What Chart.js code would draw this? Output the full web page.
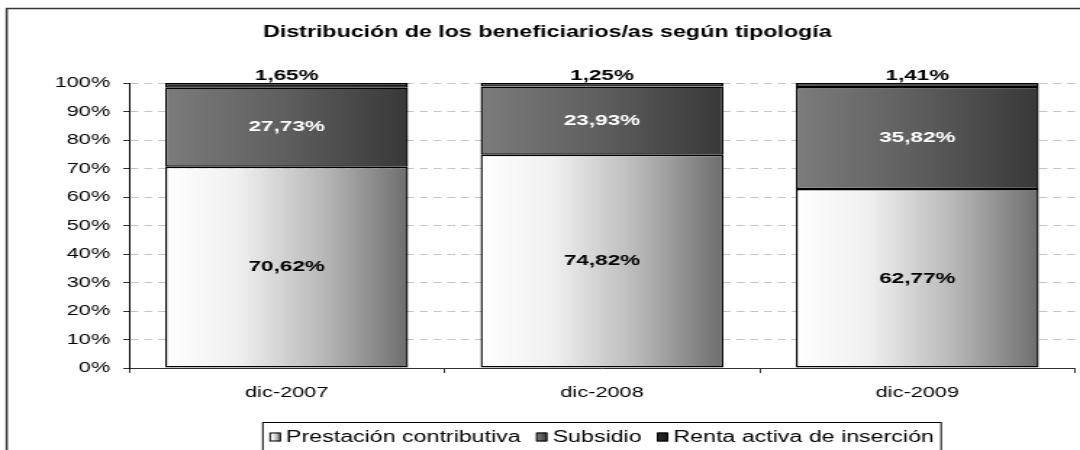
<!DOCTYPE html>
<html>
<head>
<meta charset="utf-8">
<script src="https://cdn.jsdelivr.net/npm/chart.js@4.4.1/dist/chart.umd.min.js"></script>
<style>
  html, body { margin: 0; padding: 0; background: #fff; overflow: hidden; }
  /* the original picture is a stretched Excel chart: draw narrow, then widen */
  #wrap { width: 745px; height: 450px; position: relative; transform: scaleX(1.4497); transform-origin: 0 0; }
</style>
</head>
<body>
<div id="wrap"><canvas id="tipologia-chart"></canvas></div>
<script>
// Data
const chartTitle = 'Distribución de los beneficiarios/as según tipología';
const categories = ['dic-2007', 'dic-2008', 'dic-2009'];
const seriesNames = ['Prestación contributiva', 'Subsidio', 'Renta activa de inserción'];
const prestacion = [70.62, 74.82, 62.77];
const subsidio = [27.73, 23.93, 35.82];
const renta = [1.65, 1.25, 1.41];

const FONT = '"Liberation Sans", Arial, sans-serif';
const BAR_PCT = 0.77;

// gradient stops per series (left -> right across each bar)
const fills = [
    [[0, '#ffffff'], [0.3, '#f0f0f0'], [0.65, '#b8b8b8'], [1, '#6e6e6e']],
    [[0, '#7c7c7c'], [0.5, '#5e5e5e'], [1, '#383838']],
    [[0, '#2a2a2a'], [1, '#1a1a1a']],
];

function barGradient(stops) {
    return function (context) {
        const chart = context.chart;
        const x = chart.scales && chart.scales.x;
        if (!chart.chartArea || !x || context.dataIndex === undefined) return stops[stops.length - 1][1];
        const cx = x.getPixelForValue(context.dataIndex);
        const half = (chart.chartArea.width / categories.length) * BAR_PCT / 2;
        const g = chart.ctx.createLinearGradient(cx - half, 0, cx + half, 0);
        stops.forEach(([p, c]) => g.addColorStop(p, c));
        return g;
    };
}

function fmt(v) {
    return v.toFixed(2).replace('.', ',') + '%';
}

const datasets = [prestacion, subsidio, renta].map((values, i) => ({
    label: seriesNames[i],
    data: values,
    backgroundColor: barGradient(fills[i]),
    borderColor: '#000',
    borderWidth: 1.4,
    borderSkipped: false,
    categoryPercentage: 1,
    barPercentage: BAR_PCT,
}));

// frame, title and boxed legend (Excel style)
const decorations = {
    id: 'decorations',
    beforeDraw(chart) {
        const ctx = chart.ctx;
        ctx.save();
        ctx.strokeStyle = '#333';
        ctx.lineWidth = 1.5;
        ctx.beginPath();
        ctx.moveTo(4.6, 460);
        ctx.lineTo(4.6, 8.5);
        ctx.lineTo(800, 8.5);
        ctx.stroke();
        ctx.restore();
    },
    afterDraw(chart) {
        const ctx = chart.ctx;
        ctx.save();
        ctx.fillStyle = '#000';
        ctx.textAlign = 'center';
        ctx.textBaseline = 'middle';
        ctx.font = 'bold 16px ' + FONT;
        ctx.fillText(chartTitle, 377.5, 33);

        // legend
        ctx.font = '16px ' + FONT;
        const sw = 7, sh = 9, gapSw = 4, gapItem = 11;
        const widths = seriesNames.map(n => sw + gapSw + ctx.measureText(n).width);
        const total = widths.reduce((a, b) => a + b, 0) + gapItem * (seriesNames.length - 1);
        const cx = (chart.chartArea.left + chart.chartArea.right) / 2;
        let x = cx - total / 2;
        const y = 437;
        ctx.strokeStyle = '#000';
        ctx.lineWidth = 1;
        ctx.strokeRect(x - 5, 422.5, total + 10, 40);
        ctx.textAlign = 'left';
        seriesNames.forEach((name, i) => {
            const g = ctx.createLinearGradient(x, 0, x + sw, 0);
            fills[i].forEach(([p, c]) => g.addColorStop(p, c));
            ctx.fillStyle = g;
            ctx.fillRect(x, y - sh / 2, sw, sh);
            ctx.strokeRect(x, y - sh / 2 + 0.5, sw, sh - 1);
            ctx.fillStyle = '#000';
            ctx.fillText(name, x + sw + gapSw, y + 1);
            x += widths[i] + gapItem;
        });
        ctx.restore();
    },
};

// percentage labels on each segment
const segmentLabels = {
    id: 'segmentLabels',
    afterDatasetsDraw(chart) {
        const ctx = chart.ctx;
        ctx.save();
        ctx.font = 'bold 15.5px ' + FONT;
        ctx.textAlign = 'center';
        ctx.textBaseline = 'middle';
        chart.data.datasets.forEach((ds, di) => {
            chart.getDatasetMeta(di).data.forEach((bar, i) => {
                const y = di === 2 ? bar.y - 7 : (bar.y + bar.base) / 2;
                ctx.fillStyle = di === 1 ? '#fff' : '#000';
                ctx.fillText(fmt(ds.data[i]), bar.x, y);
            });
        });
        ctx.restore();
    },
};

new Chart(document.getElementById('tipologia-chart'), {
    type: 'bar',
    data: { labels: categories, datasets },
    options: {
        animation: false,
        responsive: true,
        maintainAspectRatio: false,
        layout: { padding: { left: 6, top: 83, right: 3.5, bottom: 0 } },
        plugins: {
            legend: { display: false },
            title: { display: false },
            tooltip: { enabled: false },
        },
        scales: {
            x: {
                stacked: true,
                afterFit(scale) { scale.height = 82; },
                grid: {
                    drawOnChartArea: false,
                    drawTicks: true,
                    tickLength: 5,
                    tickColor: '#333',
                    offset: true,
                },
                border: { display: true, color: '#333', width: 1 },
                ticks: {
                    color: '#000',
                    padding: 11,
                    font: { family: FONT, size: 15 },
                    maxRotation: 0,
                },
            },
            y: {
                stacked: true,
                min: 0,
                max: 100,
                afterFit(scale) { scale.width = 83; },
                grid: {
                    color: '#c4c4c4',
                    tickColor: '#333',
                    tickLength: 4,
                    tickBorderDash: [],
                },
                border: { display: true, color: '#000', width: 1, dash: [5.5, 4] },
                ticks: {
                    stepSize: 10,
                    color: '#000',
                    padding: 9,
                    font: { family: FONT, size: 15 },
                    callback: v => v + '%',
                },
            },
        },
    },
    plugins: [decorations, segmentLabels],
});
</script>
</body>
</html>
